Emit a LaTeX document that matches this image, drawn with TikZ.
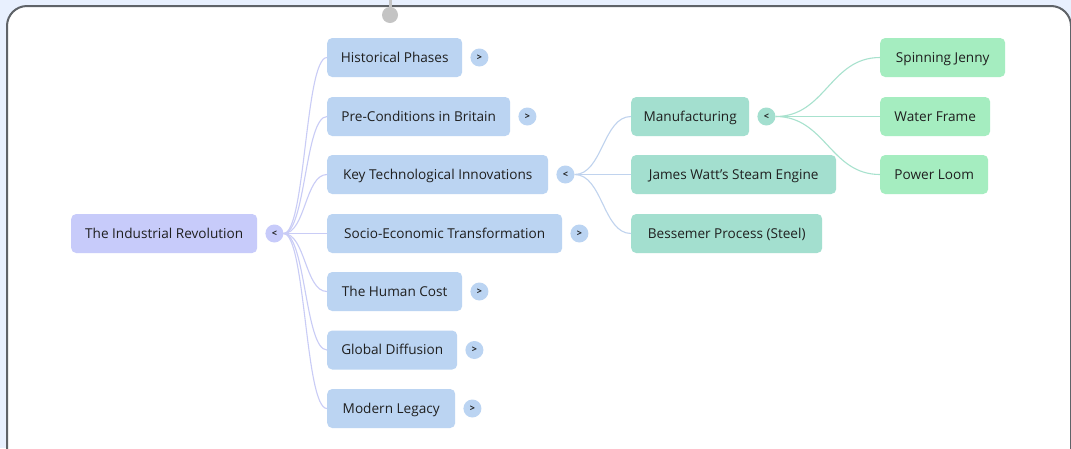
\documentclass[tikz,border=0pt]{standalone}
\usepackage{fontspec}
\setmainfont{Open Sans}
\definecolor{bg}{HTML}{E8F0FE}
\definecolor{frame}{HTML}{5F6368}
\definecolor{txt}{HTML}{1F1F1F}
\definecolor{rootc}{HTML}{C7CBFA}
\definecolor{lvone}{HTML}{BBD4F2}
\definecolor{lvtwo}{HTML}{A3DFCF}
\definecolor{lvthree}{HTML}{A5EDC0}
\definecolor{linkroot}{HTML}{C9CCF6}
\definecolor{linkone}{HTML}{C0D3EE}
\definecolor{linktwo}{HTML}{A8E2CE}
\definecolor{dot}{HTML}{C4C4C4}
\tikzset{
  box/.style={rounded corners=5pt, minimum height=39pt, anchor=west, inner xsep=8pt, inner ysep=0pt,
    font=\fontsize{13.6}{16}\selectfont, text=txt, text height=12pt, text depth=2.3pt},
  rootbox/.style={box, fill=rootc},
  onebox/.style={box, fill=lvone},
  twobox/.style={box, fill=lvtwo},
  threebox/.style={box, fill=lvthree},
  tog/.style={circle, minimum size=18pt, inner sep=0pt, font=\fontsize{9}{9}\selectfont\bfseries, text=txt},
  link/.style={line width=1.1pt}
}
\begin{document}
\begin{tikzpicture}[x=1pt,y=-1pt]
\useasboundingbox (0,0) rectangle (1071,448);
\fill[bg] (0,0) rectangle (1071,448);
\begin{scope}
\clip (0,0) rectangle (1071,448);
\draw[frame, line width=2pt, fill=white, rounded corners=20pt] (7,6) rectangle (1071,470);
\end{scope}
\draw[dot, line width=3pt] (390,0) -- (390,10);
\fill[dot] (390,15) circle (8pt);

% root
\node[rootbox, minimum width=186pt] (root) at (71,233.5) {The Industrial Revolution};
\node[tog, fill=rootc] (t0) at ([xshift=17pt]root.east) {<};

% level one
\node[onebox, minimum width=135pt] (hp) at (327,57.5) {Historical Phases};
\node[onebox, minimum width=183pt] (pc) at (327,116.5) {Pre-Conditions in Britain};
\node[onebox, minimum width=221pt] (kt) at (327,174.5) {Key Technological Innovations};
\node[onebox, minimum width=235pt] (se) at (327,233.5) {Socio-Economic Transformation};
\node[onebox, minimum width=135pt] (hc) at (327,291.5) {The Human Cost};
\node[onebox, minimum width=130pt] (gd) at (327,350) {Global Diffusion};
\node[onebox, minimum width=128pt] (ml) at (327,408.5) {Modern Legacy};

\foreach \n in {hp,pc,se,hc,gd,ml}
  \node[tog, fill=lvone] (t\n) at ([xshift=17pt]\n.east) {>};
\node[tog, fill=lvone] (tkt) at ([xshift=17pt]kt.east) {<};

\foreach \n in {hp,pc,kt,se,hc,gd,ml}
  \draw[link, linkroot] (t0.east) .. controls +(22,0) and +(-22,0) .. (\n.west);

% level two
\node[twobox, minimum width=118pt] (mf) at (631,116.5) {Manufacturing};
\node[twobox, minimum width=205pt] (sw) at (631,174.5) {James Watt's Steam Engine};
\node[twobox, minimum width=191pt] (bp) at (631,233.5) {Bessemer Process (Steel)};
\node[tog, fill=lvtwo] (tmf) at ([xshift=17pt]mf.east) {<};

\foreach \n in {mf,sw,bp}
  \draw[link, linkone] (tkt.east) .. controls +(28,0) and +(-28,0) .. (\n.west);

% level three
\node[threebox, minimum width=125pt] (sj) at (880,57.5) {Spinning Jenny};
\node[threebox, minimum width=110pt] (wf) at (880,116.5) {Water Frame};
\node[threebox, minimum width=108pt] (pl) at (880,174.5) {Power Loom};

\foreach \n in {sj,wf,pl}
  \draw[link, linktwo] (tmf.east) .. controls +(50,0) and +(-50,0) .. (\n.west);
\end{tikzpicture}
\end{document}
